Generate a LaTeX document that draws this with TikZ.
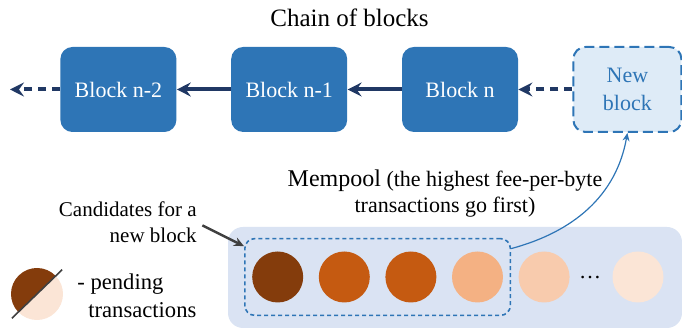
\documentclass[tikz,border=0pt]{standalone}
\usepackage{fontspec}
\setmainfont{Liberation Serif}
\usepackage{xcolor}
\usepackage{tikz}
\usetikzlibrary{arrows.meta,positioning,fit}
\definecolor{bcblk}{RGB}{46,117,182}
\definecolor{bcnew}{RGB}{222,235,247}
\definecolor{bclink}{RGB}{32,56,100}
\definecolor{bcpool}{RGB}{218,227,243}
\definecolor{bcgray}{RGB}{64,64,64}
\definecolor{fee1}{RGB}{132,60,12}
\definecolor{fee2}{RGB}{197,90,17}
\definecolor{fee3}{RGB}{244,177,131}
\definecolor{fee4}{RGB}{248,203,173}
\definecolor{fee5}{RGB}{251,229,214}
\tikzset{
  blk/.style={
    fill=bcblk, text=white, rounded corners=6pt, align=center,
    minimum width=58pt, minimum height=42.5pt, inner sep=2pt,
    font=\fontsize{11}{14}\selectfont
  },
  newblk/.style={
    blk, fill=bcnew, draw=bcblk, text=bcblk, line width=1pt,
    dash pattern=on 5pt off 2.5pt, minimum width=54pt
  },
  arr/.style={-{Stealth[length=7pt,width=7pt,inset=2.5pt]}, draw=bclink, line width=2pt},
  darr/.style={arr, dash pattern=on 4pt off 3pt},
  tx/.style={circle, inner sep=0pt, minimum size=25.5pt},
  pool/.style={fill=bcpool, rounded corners=7.5pt, inner sep=0pt},
  cbox/.style={
    draw=bcblk, line width=0.8pt, dash pattern=on 2pt off 1.5pt,
    rounded corners=5pt, inner xsep=3.5pt, inner ysep=6.25pt
  },
  barr/.style={-{Stealth[length=4pt,width=3.5pt]}, draw=bcblk, line width=0.6pt},
  garr/.style={-{Stealth[length=5pt,width=4.5pt]}, draw=bcgray, line width=1.2pt},
  anno/.style={inner sep=0pt, font=\fontsize{11}{13}\selectfont}
}
\begin{document}
\begin{tikzpicture}[node distance=27pt]
  \useasboundingbox (0,0) rectangle (341pt,-165pt);
  % the chain
  \node[anno, font=\fontsize{12.5}{15}\selectfont, anchor=base] (ttl) at (174.75pt,-13.5pt) {Chain of blocks};
  \node[blk] (bn) at (230pt,-44.75pt) {Block n};
  \node[blk, left=of bn] (bn1) {Block n-1};
  \node[blk, left=of bn1] (bn2) {Block n-2};
  \node[newblk, right=of bn] (nb) {New\\block};
  \coordinate[left=25pt of bn2] (lft);
  \draw[arr] (bn1) -- (bn2);
  \draw[arr] (bn) -- (bn1);
  \draw[darr] (nb) -- (bn);
  \draw[darr] (bn2) -- (lft);
  % mempool, sorted by fee
  \node[pool, minimum width=227pt, minimum height=50.5pt] (pool) at (227.5pt,-138.75pt) {};
  \node[tx, fill=fee1] (tx1) at (138.85pt,-138.5pt) {};
  \node[tx, fill=fee2, right=7.4pt of tx1] (tx2) {};
  \node[tx, fill=fee2, right=7.4pt of tx2] (tx3) {};
  \node[tx, fill=fee3, right=7.4pt of tx3] (tx4) {};
  \node[tx, fill=fee4, right=7.4pt of tx4] (tx5) {};
  \node[anno, anchor=base] (dots) at (295pt,-139.5pt) {\dots};
  \node[tx, fill=fee5] (tx6) at (319pt,-138.5pt) {};
  \node[cbox, fit=(tx1)(tx4)] (cand) {};
  % base sits on the last line
  \node[anno, anchor=base, align=center] (mp) at (222.5pt,-106.5pt)
    {{\fontsize{12}{13}\selectfont Mempool} (the highest fee-per-byte\\transactions go first)};
  \node[anno, anchor=base east, align=right, font=\fontsize{10.5}{13}\selectfont] (cnd) at (98.5pt,-121.5pt)
    {Candidates for a\\new block};
  \draw[garr, shorten <=3pt] (cnd.east) -- (cand.167);
  \draw[barr] (cand.12) to[out=15,in=-100] (nb.south);
  % legend
  \coordinate (lg) at (18.5pt,-147pt);
  \fill[fee1] (lg) ++(44:13pt) arc[start angle=44, end angle=224, radius=13pt] -- cycle;
  \fill[fee5] (lg) ++(224:13pt) arc[start angle=224, end angle=404, radius=13pt] -- cycle;
  \draw[bcgray, line width=0.8pt] (lg) ++(224:17.5pt) -- ++(44:35pt);
  \node[anno, anchor=base west, align=left, font=\fontsize{11.3}{14}\selectfont] (lgt) at (38.5pt,-159pt)
    {- pending\\\hspace*{5.5pt}transactions};
\end{tikzpicture}
\end{document}
